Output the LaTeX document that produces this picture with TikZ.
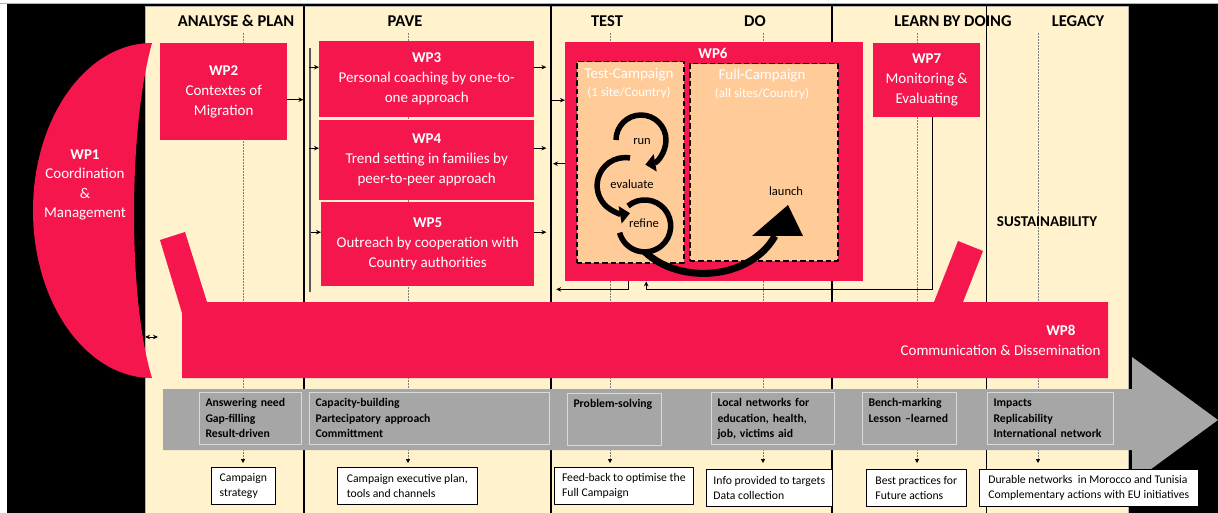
\documentclass[tikz,border=0pt]{standalone}
\usepackage{fontspec}
\setmainfont{Carlito}
\usetikzlibrary{arrows.meta}
\definecolor{wpred}{HTML}{F5164D}
\definecolor{paper}{HTML}{FFF2CC}
\definecolor{campaign}{HTML}{FFCC99}
\definecolor{bargray}{HTML}{A6A6A6}
\definecolor{barline}{HTML}{D9D9D9}
\tikzset{
	wpbox/.style={fill=wpred,text=white,align=center,inner sep=0pt,anchor=north west,font=\fontsize{15}{20}\selectfont},
	phase/.style={font=\bfseries\fontsize{16.5}{20}\selectfont},
	gain/.style={draw=barline,line width=1pt,fill=bargray,anchor=north west,align=left,inner xsep=6pt,inner ysep=5pt,text height=9pt,text depth=33pt,font=\bfseries\fontsize{11.7}{15.5}\selectfont},
	outcome/.style={draw=black,line width=.6pt,fill=white,anchor=north west,align=left,inner xsep=6pt,inner ysep=3pt,minimum height=37pt,font=\fontsize{11.7}{15}\selectfont},
	campbox/.style={draw,fill=campaign,line width=1.5pt,dash pattern=on 5.5pt off 3pt,anchor=north west,inner sep=0pt},
	camptext/.style={text=white,font=\fontsize{15}{18}\selectfont},
	campsub/.style={text=white,font=\fontsize{13}{15}\selectfont},
	looplabel/.style={font=\fontsize{12.5}{15}\selectfont},
	looparrow/.style={line width=5.5pt,-{Triangle[length=10pt,width=17pt]}},
	guide/.style={densely dotted,gray,line width=.5pt,-{Triangle[length=4pt,width=4pt,color=black]}},
}
\begin{document}
\begin{tikzpicture}[x=1pt,y=-1pt,>={Stealth[length=5pt,width=4.5pt]},line join=round]
	
	\useasboundingbox (0,0) rectangle (1218,513);
	\fill[black] (7,4.5) rectangle (1218,513); % dark frame
	\draw[gray!60,line width=1pt] (0,4) -- (1218,4);
	\fill[paper] (145,6) rectangle (1128,513); % phase columns
	\draw[gray!60,line width=.6pt] (145,513) -- (145,6) -- (1128,6) -- (1128,513);
	\foreach \x in {243,408,610,763,917,1038}
		\draw[guide] (\x,33) -- (\x,463); % column guides
	\foreach \x in {304,551,832}
		\draw[line width=2.6pt] (\x,6) -- (\x,513);
	\draw[line width=1.2pt] (986.5,6) -- (986.5,513);
	
	% phase titles
	\node[phase] (tanalyse) at (236,21) {ANALYSE \& PLAN};
	\node[phase] (tpave) at (405,21) {PAVE};
	\node[phase] (ttest) at (607,21) {TEST};
	\node[phase] (tdo) at (755,21) {DO};
	\node[phase] (tlearn) at (953,21) {LEARN BY DOING};
	\node[phase] (tlegacy) at (1078,21) {LEGACY};
	\node[font=\bfseries\fontsize{15}{18}\selectfont] (tsustain) at (1047,222) {SUSTAINABILITY};
	
	% gray timeline arrow
	\fill[bargray] (163,389) -- (1132,389) -- (1132,357) -- (1218,420) -- (1132,483) -- (1132,450) -- (163,450) -- cycle;
	
	% WP1 and WP8
	\fill[wpred] (152,43) arc[start angle=-90,end angle=-270,x radius=119,y radius=167.5] .. controls (128,300) and (128,130) .. cycle;
	\node[text=white,align=center,font=\fontsize{15}{19.6}\selectfont] (wp1) at (85,185) {\textbf{WP1}\\Coordination\\\&\\Management};
	\fill[wpred] (160,240) -- (185,232) -- (207,302) -- (934,302) -- (958,241) -- (983,251) -- (963,302) -- (1108,302) -- (1108,378) -- (182,378) -- (182,313) -- cycle;
	\node[text=white,align=right,anchor=east,font=\fontsize{15}{20}\selectfont] (wp8) at (1104,340) {\textbf{WP8}\hspace*{25pt}\\Communication \& Dissemination};
	\coordinate (wpjoin) at (145,337);
	\draw[<->,line width=1pt] (wpjoin) -- ++(13,0);
	
	% work packages
	\node[wpbox,minimum width=127pt,minimum height=97pt] (wp2) at (160,43) {\textbf{WP2}\\Contextes of\\Migration};
	\node[wpbox,minimum width=215pt,minimum height=76pt] (wp3) at (319,41) {\textbf{WP3}\\Personal coaching by one-to-\\one approach};
	\node[wpbox,minimum width=215pt,minimum height=80pt] (wp4) at (319,120) {\textbf{WP4}\\Trend setting in families by\\peer-to-peer approach};
	\node[wpbox,minimum width=213pt,minimum height=84pt] (wp5) at (321,202) {\textbf{WP5}\\Outreach by cooperation with\\Country authorities};
	\node[wpbox,minimum width=107pt,minimum height=74pt] (wp7) at (873,43) {\textbf{WP7}\\Monitoring \&\\Evaluating};
	
	% WP6 with the two campaigns
	\node[fill=wpred,anchor=north west,minimum width=298pt,minimum height=239pt,inner sep=0pt] (wp6) at (565,42) {};
	\node[text=white,font=\bfseries\fontsize{15}{18}\selectfont] (wp6title) at (713,53) {WP6};
	\node[campbox,minimum width=107pt,minimum height=201pt] (testcamp) at (576,61) {};
	\node[campbox,minimum width=148pt,minimum height=197pt] (fullcamp) at (689,63) {};
	\node[camptext] (testname) at (629,75) {Test-Campaign};
	\node[campsub] (testsites) at (629,93) {(1 site/Country)};
	\node[camptext] (fullname) at (762,76) {Full-Campaign};
	\node[campsub] (fullsites) at (762,94) {(all sites/Country)};
	
	% run - evaluate - refine - launch
	\draw[looparrow] (616,140) arc[start angle=-180,end angle=80,radius=25];
	\draw[looparrow] (630,158) arc[start angle=-80,end angle=-280,radius=28];
	\draw[line width=5.5pt] (628,206) arc[start angle=-130,end angle=165,radius=26];
	\draw[line width=7pt] (645,252) .. controls (680,285) and (750,280) .. (775,236);
	\fill (752,236) -- (788,205) -- (803,236) -- cycle;
	\node[looplabel] (run) at (642,142) {run};
	\node[looplabel] (evaluate) at (632,184) {evaluate};
	\node[looplabel] (refine) at (644,223) {refine};
	\node[looplabel] (launch) at (786,191) {launch};
	
	% connectors
	\draw[->,line width=1.5pt] ([yshift=-8pt]wp2.east) -- ++(16,0);
	\draw[gray!70!black,line width=1.2pt] (310,48) -- (310,292);
	\foreach \w in {wp3,wp4,wp5}{
		\draw[->,line width=1pt] ([yshift=12pt]\w.west) ++(-10,0) -- ([yshift=12pt]\w.west);
		\draw[->,line width=1pt] ([yshift=12pt]\w.east) -- ++(12,0);
	}
	\draw[->,line width=1pt] ([yshift=61.5pt]wp6.west) ++(-13,0) -- ([yshift=61.5pt]wp6.west);
	\draw[->,line width=1pt] ([yshift=-2pt]wp6.west) -- ++(-12,0);
	\draw[->,line width=1pt] ([xshift=-86pt]wp6.south) |- ++(-72,8); % back to PAVE
	\draw[->,line width=1.2pt] ([xshift=6pt]wp7.south) -- ++(0,172) -| ([xshift=-68pt]wp6.south); % monitoring loop
	
	% what each phase brings
	\node[gain,text width=90pt] (need) at (199,392) {Answering need\\Gap-filling\\Result-driven};
	\node[gain,text width=228pt] (capacity) at (309,392) {Capacity-building\\Partecipatory approach\\Committment};
	\node[gain,text width=82pt] (problem) at (567,393) {Problem-solving};
	\node[gain,text width=111pt] (localnet) at (711,392) {Local networks for\\education, health,\\job, victims aid};
	\node[gain,text width=82pt] (bench) at (862,392) {Bench-marking\\Lesson --learned};
	\node[gain,text width=114pt] (impacts) at (987,392) {Impacts\\Replicability\\International network};
	
	% outputs
	\node[outcome,minimum width=64pt] (strategy) at (211,467) {Campaign\\strategy};
	\node[outcome,minimum width=140pt] (execplan) at (337,467) {Campaign executive plan,\\tools and channels};
	\node[outcome,minimum width=139pt] (feedback) at (554,467) {Feed-back to optimise the\\Full Campaign};
	\node[outcome,minimum width=126pt] (info) at (706,469) {Info provided to targets\\Data collection};
	\node[outcome,minimum width=100pt] (practices) at (866,469) {Best practices for\\Future actions};
	\node[outcome,minimum width=219pt] (durable) at (979,469) {Durable networks\ \ in Morocco and Tunisia\\Complementary actions with EU initiatives};
	
\end{tikzpicture}
\end{document}
